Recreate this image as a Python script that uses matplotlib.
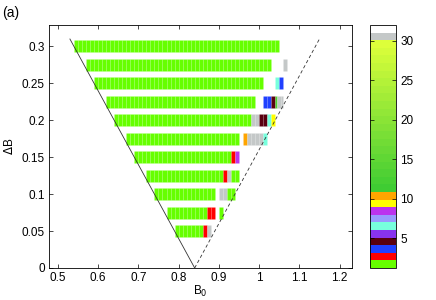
import numpy as np
import matplotlib
matplotlib.use("Agg")
import matplotlib.pyplot as plt
from matplotlib.colors import ListedColormap, Normalize, to_rgb
from matplotlib.cm import ScalarMappable

plt.rcParams['font.family'] = ['Liberation Sans', 'DejaVu Sans']

# --- data -------------------------------------------------------------
delta_B = [0.300, 0.275, 0.250, 0.225, 0.200, 0.175, 0.150, 0.125, 0.100, 0.075, 0.050]
# per row: (B0 start, B0 end, colour code)
row_segments = [
    [(0.54, 1.05, 1)],
    [(0.57, 1.03, 1), (1.06, 1.07, 31)],
    [(0.59, 1.01, 1), (1.04, 1.05, 6), (1.05, 1.06, 3)],
    [(0.62, 0.99, 1), (1.01, 1.03, 3), (1.03, 1.04, 4), (1.04, 1.045, 13), (1.045, 1.06, 31)],
    [(0.64, 0.98, 1), (0.98, 1.00, 31), (1.00, 1.02, 4), (1.02, 1.03, 6), (1.03, 1.04, 9)],
    [(0.67, 0.95, 1), (0.96, 0.97, 10), (0.97, 1.01, 31), (1.01, 1.02, 6)],
    [(0.69, 0.93, 1), (0.93, 0.94, 2), (0.94, 0.95, 8)],
    [(0.72, 0.91, 1), (0.91, 0.92, 2), (0.92, 0.93, 31), (0.93, 0.95, 1)],
    [(0.74, 0.89, 1), (0.90, 0.92, 31), (0.92, 0.94, 1)],
    [(0.77, 0.87, 1), (0.87, 0.89, 2), (0.90, 0.91, 1)],
    [(0.79, 0.86, 1), (0.86, 0.87, 2), (0.87, 0.88, 31)],
]
apex_B0 = 0.84
line_dB = [0.0, 0.31]
x_ticks = [0.5, 0.6, 0.7, 0.8, 0.9, 1.0, 1.1, 1.2]
x_ticklabels = ['0.5', '0.6', '0.7', '0.8', '0.9', '1', '1.1', '1.2']
y_ticks = [0, 0.05, 0.1, 0.15, 0.2, 0.25, 0.3]
y_ticklabels = ['0', '0.05', '0.1', '0.15', '0.2', '0.25', '0.3']
cbar_ticks = [5, 10, 15, 20, 25, 30]
cbar_range = (1.2, 32.0)

# --- colormap ---------------------------------------------------------
discrete = ['#66ff00', '#ff0000', '#2040ff', '#5a0010', '#8833ee',
            '#77ffdd', '#9999ff', '#bb33ee', '#ffff00', '#ffa500']
g0 = np.array(to_rgb('#3fcc33'))
g1 = np.array(to_rgb('#ddff3a'))
gradient = [tuple(g0 + (g1 - g0) * t) for t in np.linspace(0, 1, 20)]
colors = [to_rgb(c) for c in discrete] + gradient + [to_rgb('#c4c8c8'), (1, 1, 1)]
cmap = ListedColormap(colors)

# --- figure -----------------------------------------------------------
fig = plt.figure(figsize=(4.36, 3.0), dpi=100)
ax = fig.add_axes([0.1124, 0.1067, 0.695, 0.81])
cax = fig.add_axes([0.8486, 0.1067, 0.0596, 0.81])

bar_h = 0.0163
for y, segs in zip(delta_B, row_segments):
    for (s, e, code) in segs:
        col = cmap(code - 1)
        edges = np.arange(s, e - 1e-9, 0.01)
        for left in edges:
            w = min(0.01, e - left)
            ax.barh(y, w, left=left, height=bar_h, color=col,
                    edgecolor=(1, 1, 1, 0.1), linewidth=0.4)

dB = np.array(line_dB)
ax.plot(apex_B0 - dB, dB, color='#333333', lw=0.6, zorder=5)
ax.plot(apex_B0 + dB, dB, color='#333333', lw=0.6, ls=(0, (4, 3)), zorder=5)

ax.set_xlim(0.478, 1.231)
ax.set_ylim(0, 0.329)
ax.set_xticks(x_ticks)
ax.set_xticklabels(x_ticklabels)
ax.set_yticks(y_ticks)
ax.set_yticklabels(y_ticklabels)
ax.tick_params(direction='in', top=True, right=True, length=3, width=0.5,
               labelsize=8.5, pad=3)
for sp in ax.spines.values():
    sp.set_linewidth(0.6)
ax.set_xlabel('B$_0$', fontsize=8.5, labelpad=0)
ax.set_ylabel('$\\Delta$B', fontsize=8.5, labelpad=4)

sm = ScalarMappable(norm=Normalize(*cbar_range), cmap=cmap)
cb = fig.colorbar(sm, cax=cax, ticks=cbar_ticks)
cb.outline.set_linewidth(0.6)
cax.tick_params(direction='in', left=True, right=True, length=3, width=0.5,
                labelsize=8.5, pad=3)

fig.text(0.005, 0.945, '(a)', fontsize=10)

fig.savefig('out.png', dpi=100)
